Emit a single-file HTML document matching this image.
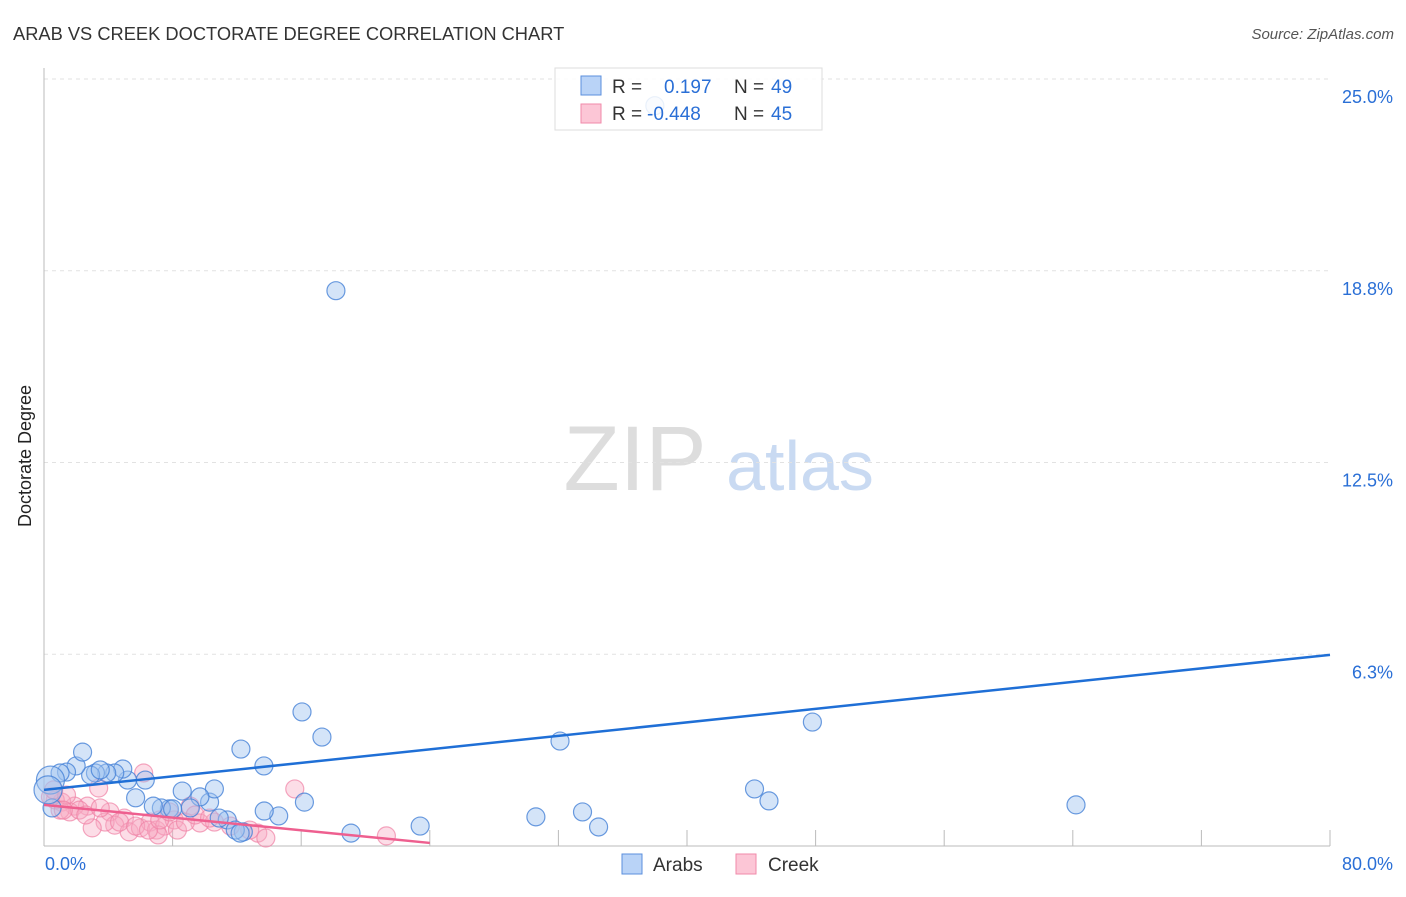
<!DOCTYPE html>
<html><head><meta charset="utf-8"><style>
body{margin:0;background:#fff;font-family:"Liberation Sans",sans-serif}
svg text{font-family:"Liberation Sans",sans-serif}
</style></head><body>
<svg id="chart" width="1406" height="892">
<text x="13" y="40" font-size="18.3" fill="#333">ARAB VS CREEK DOCTORATE DEGREE CORRELATION CHART</text>
<text x="1394" y="39" font-size="15" fill="#555" font-style="italic" text-anchor="end">Source: ZipAtlas.com</text>
<text x="31" y="456" font-size="18" fill="#222" text-anchor="middle" transform="rotate(-90 31 456)">Doctorate Degree</text>
<text x="635" y="490" font-size="92" fill="#ddd" font-family="Liberation Serif" text-anchor="middle">ZIP</text>
<text x="800" y="490" font-size="70" fill="#c9daf2" text-anchor="middle">atlas</text>
<g id="grid"></g><g id="marks"></g>
<g>
<rect x="555" y="68" width="267" height="62" fill="rgba(255,255,255,0.85)" stroke="#ddd"/>
<rect x="581" y="76" width="20" height="19" fill="#b9d3f7" stroke="#5b8fdd"/>
<rect x="581" y="104" width="20" height="19" fill="#fcc6d6" stroke="#f08aaa"/>
<text x="612" y="93" font-size="19" fill="#333">R = </text><text x="664" y="93" font-size="19" fill="#2a6fd6">0.197</text>
<text x="734" y="93" font-size="19" fill="#333">N = </text><text x="771" y="93" font-size="19" fill="#2a6fd6">49</text>
<text x="612" y="120" font-size="19" fill="#333">R = </text><text x="647" y="120" font-size="19" fill="#2a6fd6">-0.448</text>
<text x="734" y="120" font-size="19" fill="#333">N = </text><text x="771" y="120" font-size="19" fill="#2a6fd6">45</text>
</g>
<g><rect x="622" y="854" width="20" height="20" fill="#b9d3f7" stroke="#5b8fdd"/><text x="653" y="871" font-size="19" fill="#333">Arabs</text></g>
<g><rect x="736" y="854" width="20" height="20" fill="#fcc6d6" stroke="#f08aaa"/><text x="768" y="871" font-size="19" fill="#333">Creek</text></g>
</svg>
<script>
const yTicks=[25,18.75,12.5,6.25];
const yTickLabels=["25.0%","18.8%","12.5%","6.3%"];
const xTicks=[0,8,16,24,32,40,48,56,64,72,80];
const xTickLabels=["0.0%","80.0%"];
const arabsX=[18.16,38.0,16.05,17.29,12.25,13.68,32.1,47.8,44.2,45.1,64.2,30.6,33.5,34.5,23.4,19.1,14.6,13.7,16.2,12.4,11.4,10.3,10.6,9.7,9.1,8.6,7.8,7.3,6.8,5.7,6.3,5.2,4.9,4.4,3.9,3.2,2.9,2.0,2.4,1.4,1.0,0.5,0.4,0.25,10.9,11.9,12.2,8.0,3.5];
const arabsY=[18.10,24.13,4.37,3.55,3.16,2.61,3.42,4.04,1.86,1.47,1.34,0.95,1.11,0.62,0.65,0.42,0.98,1.14,1.43,0.46,0.85,1.43,1.86,1.60,1.24,1.79,1.21,1.24,1.30,1.57,2.15,2.15,2.51,2.38,2.38,2.38,2.31,2.61,3.06,2.41,2.38,1.24,2.15,1.83,0.91,0.52,0.42,1.21,2.48];
const creekX=[15.6,6.2,3.4,5.0,4.1,2.7,1.9,1.1,0.7,0.4,1.6,2.2,4.4,5.3,6.0,6.6,7.0,7.5,8.1,8.3,9.1,9.7,10.6,11.6,13.3,13.8,21.3,7.1,3.8,4.7,3.0,1.0,1.4,2.6,3.5,5.7,6.5,7.2,8.8,9.4,10.3,12.8,7.8,0.6,1.2];
const creekY=[1.86,2.38,1.89,0.91,1.11,1.30,1.30,1.43,1.50,1.60,1.11,1.17,0.68,0.46,0.59,0.78,0.52,0.65,0.85,0.52,1.30,0.75,0.78,0.65,0.42,0.26,0.33,0.36,0.78,0.78,0.59,1.17,1.66,1.01,1.24,0.65,0.52,0.85,0.78,1.01,0.91,0.52,1.11,1.83,1.17];
const arabsTrend=[[0,1.83],[80,6.23]];
const creekTrend=[[0,1.34],[24,0.1]];
const X0=44,X1=1330,Y0=846,Y25=79;
const sx=v=>X0+(X1-X0)*v/80, sy=v=>Y0-(Y0-Y25)*v/25;
const NS="http://www.w3.org/2000/svg";
const grid=document.getElementById('grid'), marks=document.getElementById('marks');
function mk(tag,attrs,parent){const e=document.createElementNS(NS,tag);for(const k in attrs)e.setAttribute(k,attrs[k]);parent.appendChild(e);return e;}
yTicks.forEach((t,i)=>{
 const l=mk('line',{x1:X0,x2:X1,y1:sy(t),y2:sy(t),stroke:'#e2e2e2','stroke-dasharray':'4,4'},grid);
 
 
 const tx=mk('text',{x:1393,y:sy(t)+24,'font-size':18,fill:'#2a6fd6','text-anchor':'end'},grid);tx.textContent=yTickLabels[i];
 
 
});
const ax=mk('line',{x1:X0,x2:X0,y1:68,y2:Y0,stroke:'#bbb'},grid);


const bx=mk('line',{x1:X0,x2:X1,y1:Y0,y2:Y0,stroke:'#bbb'},grid);


xTicks.forEach(t=>{const l=mk('line',{x1:sx(t),x2:sx(t),y1:Y0-16,y2:Y0,stroke:'#bbb'},grid);
 
 });
const xl0=mk('text',{x:45,y:870,'font-size':18,fill:'#2a6fd6'},grid);xl0.textContent=xTickLabels[0];


const xl1=mk('text',{x:1393,y:870,'font-size':18,fill:'#2a6fd6','text-anchor':'end'},grid);xl1.textContent=xTickLabels[1];


creekX.forEach((v,i)=>{const c=mk('circle',{cx:sx(v),cy:sy(creekY[i]),r:9,fill:'rgba(247,170,195,0.4)',stroke:'rgba(240,130,165,0.7)','stroke-width':1.2},marks);
 
 });
arabsX.forEach((v,i)=>{const c=mk('circle',{cx:sx(v),cy:sy(arabsY[i]),r:(v<0.45?14:9),fill:'rgba(160,195,240,0.45)',stroke:'rgba(70,130,215,0.8)','stroke-width':1.2},marks);
 
 });
const tb=mk('line',{x1:sx(arabsTrend[0][0]),y1:sy(arabsTrend[0][1]),x2:sx(arabsTrend[1][0]),y2:sy(arabsTrend[1][1]),stroke:'#1f6fd6','stroke-width':2.5},marks);


const tp=mk('line',{x1:sx(creekTrend[0][0]),y1:sy(creekTrend[0][1]),x2:sx(creekTrend[1][0]),y2:sy(creekTrend[1][1]),stroke:'#ee5f8f','stroke-width':2.5},marks);


</script>
</body></html>
